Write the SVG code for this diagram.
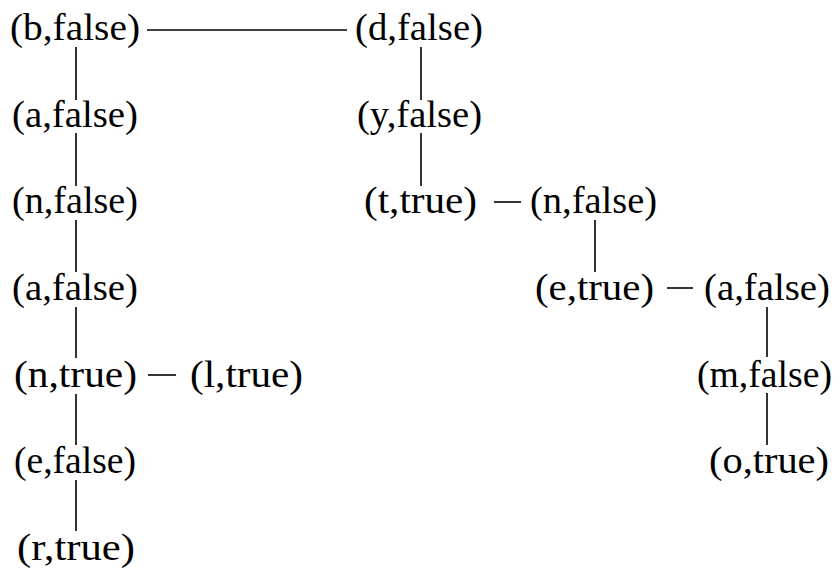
<svg xmlns="http://www.w3.org/2000/svg" width="838" height="568" viewBox="0 0 838 568">
<style>
text{font-family:"Liberation Serif","Times New Roman",serif;font-size:37px;fill:#000}
.e{stroke:#000;stroke-width:1.6;fill:none}
</style>
<rect width="838" height="568" fill="#fff"/>
<g id="edges">
<line class="e" x1="147" y1="30" x2="347" y2="30"/>
<line class="e" x1="76" y1="47" x2="76" y2="100"/>
<line class="e" x1="76" y1="133" x2="76" y2="186"/>
<line class="e" x1="76" y1="220" x2="76" y2="272"/>
<line class="e" x1="76" y1="307" x2="76" y2="358"/>
<line class="e" x1="76" y1="394" x2="76" y2="445"/>
<line class="e" x1="76" y1="480" x2="76" y2="531"/>
<line class="e" x1="148" y1="375" x2="176" y2="375"/>
<line class="e" x1="421" y1="47" x2="421" y2="100"/>
<line class="e" x1="421" y1="133" x2="421" y2="186"/>
<line class="e" x1="494" y1="202" x2="521" y2="202"/>
<line class="e" x1="595" y1="220" x2="595" y2="272"/>
<line class="e" x1="667" y1="288" x2="693" y2="288"/>
<line class="e" x1="767" y1="307" x2="767" y2="357"/>
<line class="e" x1="767" y1="393" x2="767" y2="445"/>
</g>
<g id="n_b"><text x="10" y="40" textLength="130" lengthAdjust="spacingAndGlyphs">(b,false)</text></g>
<g id="n_a1"><text x="12" y="127" textLength="126" lengthAdjust="spacingAndGlyphs">(a,false)</text></g>
<g id="n_n1"><text x="12" y="213" textLength="126" lengthAdjust="spacingAndGlyphs">(n,false)</text></g>
<g id="n_a2"><text x="12" y="300" textLength="126" lengthAdjust="spacingAndGlyphs">(a,false)</text></g>
<g id="n_n2"><text x="14" y="387" textLength="123" lengthAdjust="spacingAndGlyphs">(n,true)</text></g>
<g id="n_l"><text x="190" y="387" textLength="113" lengthAdjust="spacingAndGlyphs">(l,true)</text></g>
<g id="n_e1"><text x="14" y="473" textLength="122" lengthAdjust="spacingAndGlyphs">(e,false)</text></g>
<g id="n_r"><text x="17" y="560" textLength="118" lengthAdjust="spacingAndGlyphs">(r,true)</text></g>
<g id="n_d"><text x="355" y="40" textLength="128" lengthAdjust="spacingAndGlyphs">(d,false)</text></g>
<g id="n_y"><text x="357" y="127" textLength="125" lengthAdjust="spacingAndGlyphs">(y,false)</text></g>
<g id="n_t"><text x="364" y="213" textLength="113" lengthAdjust="spacingAndGlyphs">(t,true)</text></g>
<g id="n_n3"><text x="530" y="213" textLength="127" lengthAdjust="spacingAndGlyphs">(n,false)</text></g>
<g id="n_e2"><text x="535" y="300" textLength="119" lengthAdjust="spacingAndGlyphs">(e,true)</text></g>
<g id="n_a3"><text x="704" y="300" textLength="126" lengthAdjust="spacingAndGlyphs">(a,false)</text></g>
<g id="n_m"><text x="697" y="387" textLength="135" lengthAdjust="spacingAndGlyphs">(m,false)</text></g>
<g id="n_o"><text x="709" y="473" textLength="120" lengthAdjust="spacingAndGlyphs">(o,true)</text></g>
</svg>
